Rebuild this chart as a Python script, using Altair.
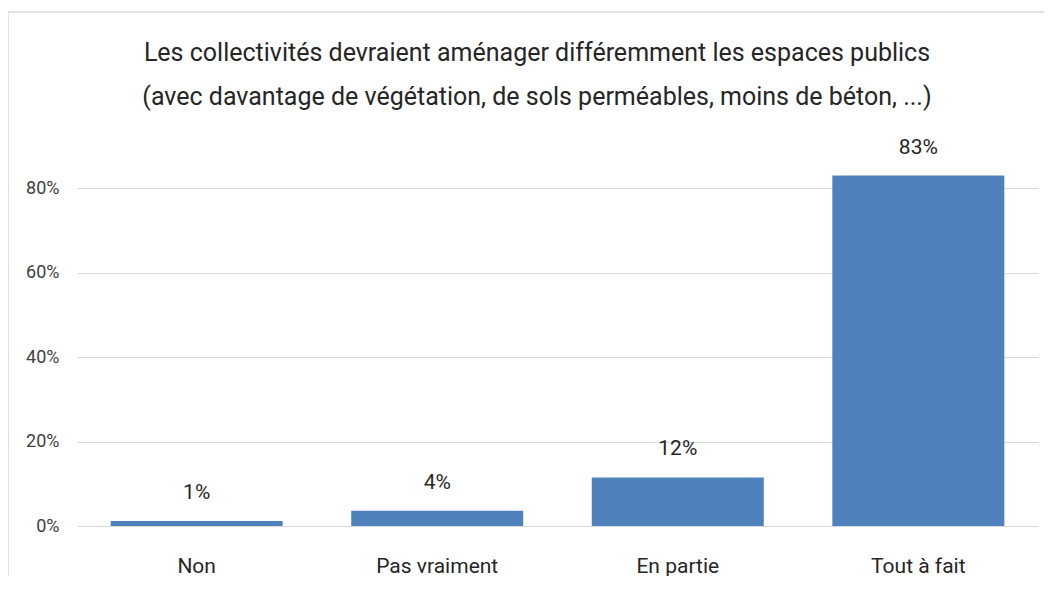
import altair as alt
import pandas as pd

categories = ["Non", "Pas vraiment", "En partie", "Tout à fait"]
values = [0.012, 0.036, 0.115, 0.83]
y_ticks = [0, 0.2, 0.4, 0.6, 0.8]
title_lines = [
    "Les collectivités devraient aménager différemment les espaces publics",
    "(avec davantage de végétation, de sols perméables, moins de béton, ...)",
]

df = pd.DataFrame({"cat": categories, "val": values})

FONT = "Liberation Sans Narrow, Arial Narrow, Roboto, sans-serif"
W, H = 961, 380

x = alt.X(
    "cat:N",
    sort=categories,
    title=None,
    scale=alt.Scale(paddingInner=0.285, paddingOuter=0.14),
    axis=alt.Axis(
        labelAngle=0,
        labelFontSize=21,
        labelColor="#262626",
        labelFont=FONT,
        labelPadding=29,
        ticks=False,
        domain=False,
    ),
)
y = alt.Y(
    "val:Q",
    title=None,
    scale=alt.Scale(domain=[0, 0.9], nice=False),
    axis=alt.Axis(
        values=y_ticks,
        format=".0%",
        labelFontSize=18,
        labelColor="#404040",
        labelFont=FONT,
        labelPadding=18,
        ticks=False,
        domain=False,
        gridColor="#d9d9d9",
        gridWidth=1,
    ),
)

bars = alt.Chart(df).mark_bar(color="#4F81BD").encode(x=x, y=y)
labels = alt.Chart(df).mark_text(
    baseline="bottom", dy=-18, fontSize=21, font=FONT, color="#262626"
).encode(x=alt.X("cat:N", sort=categories), y="val:Q", text=alt.Text("val:Q", format=".0%"))

frame = alt.Chart(pd.DataFrame({"a": [0]})).mark_rect(
    fill=None, stroke="#d9d9d9", strokeWidth=1.5, clip=False
).encode(
    x=alt.value(-69),
    x2=alt.value(W + 60),
    y=alt.value(-134),
    y2=alt.value(H + 120),
)

title_y = [-93, -49]
title_layers = [
    alt.Chart(pd.DataFrame({"line": [title_lines[k]]})).mark_text(
        fontSize=25, font=FONT, color="#262626", align="center", baseline="middle"
    ).encode(x=alt.value(460), y=alt.value(title_y[k]), text="line:N")
    for k in range(2)
]

chart = (
    alt.layer(frame, bars, labels, *title_layers)
    .properties(
        width=W,
        height=H,
        background="white",
        autosize=alt.AutoSizeParams(type="none"),
        padding={"left": 69, "top": 138, "right": 6, "bottom": 50},
    )
    .configure_view(stroke=None, strokeWidth=0)
)

chart.save("out.html", embed_options={"renderer": "svg", "actions": False})
